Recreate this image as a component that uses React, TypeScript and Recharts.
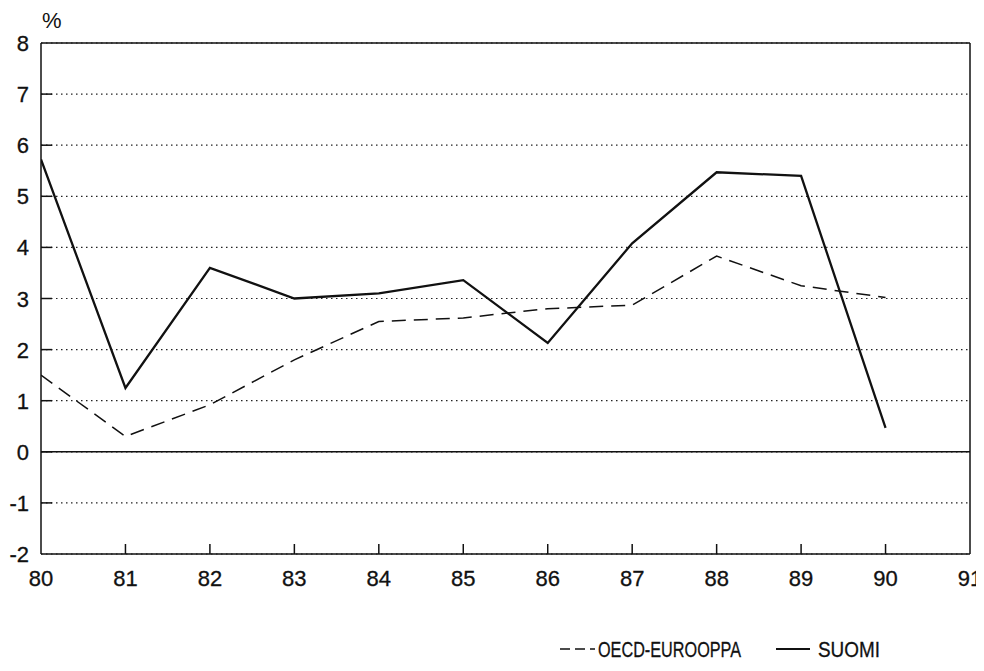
import React from 'react';
import { LineChart, Line, XAxis, YAxis, CartesianGrid, ReferenceLine } from 'recharts';

const years = [80, 81, 82, 83, 84, 85, 86, 87, 88, 89, 90];
const suomi = [5.72, 1.25, 3.6, 3.0, 3.1, 3.36, 2.13, 4.08, 5.47, 5.4, 0.47];
const oecdEurooppa = [1.5, 0.3, 0.92, 1.8, 2.55, 2.62, 2.8, 2.87, 3.83, 3.25, 3.02];
const xTicks = [80, 81, 82, 83, 84, 85, 86, 87, 88, 89, 90, 91];
const yTicks = [-2, -1, 0, 1, 2, 3, 4, 5, 6, 7, 8];
const legendLabels = ['OECD-EUROOPPA', 'SUOMI'];

const data = years.map((y, i) => ({ year: y, suomi: suomi[i], oecd: oecdEurooppa[i] }));

const FONT = '"Liberation Sans", Arial, Helvetica, sans-serif';

const XTick = (props: any) => {
  const { x, y, payload } = props;
  const v = payload.value;
  const inner = v !== 80 && v !== 91;
  return (
    <g>
      {inner && <line x1={x} x2={x} y1={y} y2={y - 10} stroke="#111" strokeWidth={1.5} />}
      <text x={x} y={y + 32} textAnchor="middle" fontSize={22} fontFamily={FONT} fill="#111" stroke="#111" strokeWidth={0.3}>{v}</text>
    </g>
  );
};

const YTick = (props: any) => {
  const { x, y, payload } = props;
  const v = payload.value;
  const inner = v !== -2 && v !== 8;
  return (
    <g>
      {inner && <line x1={x} x2={x + 11} y1={y} y2={y} stroke="#111" strokeWidth={1.5} />}
      <text x={x - 12} y={y + 8} textAnchor="end" fontSize={22} fontFamily={FONT} fill="#111" stroke="#111" strokeWidth={0.3}>{v}</text>
    </g>
  );
};

export default function App() {
  return (
    <div style={{ position: 'relative', width: 976, height: 663, background: '#fff', fontFamily: FONT }}>
      <LineChart width={976} height={663} data={data} margin={{ top: 35, right: 14, left: 0, bottom: 77 }}>
        <CartesianGrid vertical={false} stroke="#222" strokeWidth={1.2} strokeDasharray="1.5 3.5" />
        <XAxis
          dataKey="year"
          type="number"
          domain={[80, 91]}
          ticks={xTicks}
          height={40}
          tickSize={0}
          tickMargin={0}
          tickLine={false}
          axisLine={{ stroke: '#111', strokeWidth: 1.5 }}
          tick={<XTick />}
          interval={0}
          allowDataOverflow
        />
        <YAxis
          type="number"
          domain={[-2, 8]}
          ticks={yTicks}
          width={33}
          tickSize={0}
          tickMargin={0}
          tickLine={false}
          axisLine={{ stroke: '#111', strokeWidth: 1.5 }}
          tick={<YTick />}
          interval={0}
          allowDataOverflow
        />
        <ReferenceLine y={0} stroke="#111" strokeWidth={1.5} />
        <ReferenceLine y={8} stroke="#111" strokeWidth={1.5} />
        <ReferenceLine x={91} stroke="#111" strokeWidth={1.5} />
        <Line type="linear" dataKey="oecd" stroke="#111" strokeWidth={1.5} strokeDasharray="14 8" dot={false} isAnimationActive={false} />
        <Line type="linear" dataKey="suomi" stroke="#111" strokeWidth={2.3} dot={false} isAnimationActive={false} />
      </LineChart>
      <div style={{ position: 'absolute', left: 34, top: 0, fontSize: 22, color: '#111', lineHeight: 'normal' }}>%</div>
      <svg style={{ position: 'absolute', left: 540, top: 628 }} width={360} height={30}>
        <line x1={12} x2={47} y1={13} y2={13} stroke="#111" strokeWidth={1.4} strokeDasharray="10 5" />
        <text x={50} y={21} fontSize={22} fontFamily={FONT} fill="#111" stroke="#111" strokeWidth={0.3} textLength={143} lengthAdjust="spacingAndGlyphs">{legendLabels[0]}</text>
        <line x1={228} x2={262} y1={13} y2={13} stroke="#111" strokeWidth={1.8} />
        <text x={270} y={21} fontSize={22} fontFamily={FONT} fill="#111" stroke="#111" strokeWidth={0.3} textLength={62} lengthAdjust="spacingAndGlyphs">{legendLabels[1]}</text>
      </svg>
    </div>
  );
}
